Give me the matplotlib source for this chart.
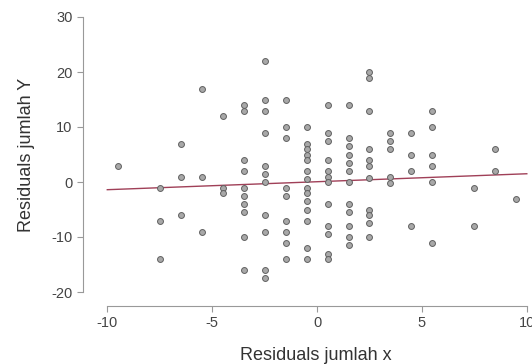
import matplotlib
matplotlib.use("Agg")
import matplotlib.pyplot as plt
import numpy as np

plt.rcParams['font.family'] = ['Liberation Sans', 'DejaVu Sans']
plt.rcParams['axes.unicode_minus'] = False

# Column x positions (residuals jumlah x) and the y residuals read at each
col_x = [-9.5, -7.5, -6.5, -5.5, -4.5, -3.5, -2.5, -1.5, -0.5, 0.5,
         1.5, 2.5, 3.5, 4.5, 5.5, 7.5, 8.5, 9.5]
col_y = [
    [3],
    [-1, -7, -14],
    [7, 1, -6],
    [17, 1, -9],
    [12, -1, -2],
    [14, 13, 4, 2, -1, -2.5, -4, -5.5, -10, -16],
    [22, 15, 13, 9, 3, 1.5, 0, -6, -9, -16, -17.5],
    [15, 10, 8, -1, -2.5, -7, -9, -11, -14],
    [10, 7, 6, 5, 4, 2, 0.5, -1, -2, -3.5, -5, -7, -12, -14],
    [14, 9, 7.5, 4, 2, 1, 0, -4, -8, -9.5, -13, -14],
    [14, 8, 6.5, 5, 3.5, 2, 0, -4, -5.5, -8, -10, -11.5],
    [20, 19, 13, 6, 4, 3, 0.7, -5, -6, -7.5, -10],
    [9, 7.5, 6, 1, -0.2],
    [9, 5, 2, -8],
    [13, 10, 5, 3, 0, -11],
    [-1, -8],
    [6, 2],
    [-3],
]
fit_x = [-10, 10]
fit_y = [-1.4, 1.5]

x_ticks = [-10, -5, 0, 5, 10]
y_ticks = [-20, -10, 0, 10, 20, 30]

xs = np.concatenate([[cx] * len(ys) for cx, ys in zip(col_x, col_y)])
ys = np.concatenate([np.array(v, dtype=float) for v in col_y])

fig = plt.figure(figsize=(5.32, 3.64), dpi=100)
ax = fig.add_axes([101 / 532, 1 - 297.5 / 364, 430 / 532, 286 / 364])

ax.plot(fit_x, fit_y, color='#a04058', lw=1.0, zorder=2)
ax.scatter(xs, ys, s=18, facecolor='#a8a8a8', edgecolor='#606060',
           linewidth=0.7, zorder=3)

ax.set_xlim(-10.3, 10.2)
ax.set_ylim(-21, 31)
ax.set_xticks(x_ticks)
ax.set_yticks(y_ticks)

for s in ['top', 'right']:
    ax.spines[s].set_visible(False)
ax.spines['left'].set_position(('outward', 13))
ax.spines['bottom'].set_position(('outward', 6))
ax.spines['left'].set_bounds(-20, 30)
ax.spines['bottom'].set_bounds(-10, 10)
for s in ['left', 'bottom']:
    ax.spines[s].set_color('#999999')
    ax.spines[s].set_linewidth(0.8)
ax.tick_params(axis='both', colors='#999999', labelcolor='#444444',
               labelsize=10.5, length=4, width=0.8)

ax.set_xlabel('Residuals jumlah x', fontsize=13, color='#333333', labelpad=12)
ax.set_ylabel('Residuals jumlah Y', fontsize=13, color='#333333', labelpad=12)

fig.savefig('out.png', dpi=100)
